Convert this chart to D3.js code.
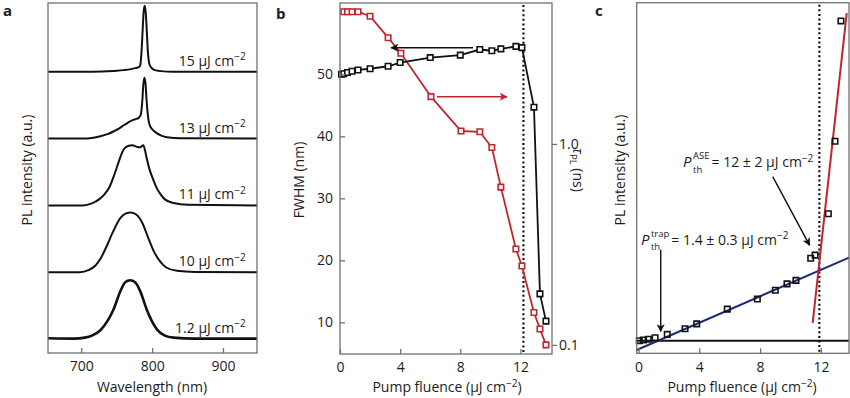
<!DOCTYPE html>
<html>
<head>
<meta charset="utf-8">
<script src="https://cdn.jsdelivr.net/npm/d3@7"></script>
<style>
  body { margin: 0; background: #fff; }
  text { font-family: "Open Sans", "Noto Sans", sans-serif; fill: #1c1c1c; }
</style>
</head>
<body>
<svg id="chart"></svg>
<script>
/*
 *  Data
 */
// panel a: PL spectra, [wavelength (nm), intensity (a.u.)], lowest trace first
var spectrumLabels = ["1.2", "10", "11", "13", "15"];
var spec1p2 = [[653,0.01],[690,0.005],[705,0.02],[715,0.05],[727,0.13],[737,0.27],[745,0.43],[755,0.71],[762,0.85],[769,0.88],[776,0.85],[783,0.72],[792,0.45],[800,0.26],[807,0.14],[818,0.05],[830,0.02],[860,0.005],[948,0.005]];
var spec10 = [[653,0],[698,0],[710,0.03],[720,0.1],[727,0.2],[735,0.37],[745,0.61],[755,0.81],[763,0.88],[770,0.895],[778,0.86],[786,0.74],[795,0.5],[803,0.3],[812,0.15],[820,0.07],[835,0.02],[860,0.003],[948,0]];
var spec11 = [[653,0],[702,0],[715,0.03],[725,0.09],[733,0.17],[740,0.28],[748,0.5],[755,0.72],[760,0.84],[766,0.89],[772,0.9],[779,0.875],[783,0.87],[787.5,0.9],[790,0.82],[792,0.72],[796,0.55],[801,0.4],[806,0.27],[811,0.18],[818,0.09],[830,0.035],[850,0.008],[948,0]];
var spec13 = [[653,0],[703,0],[715,0.01],[727,0.035],[738,0.07],[746,0.11],[753,0.15],[760,0.2],[766,0.24],[771,0.27],[776,0.29],[781,0.31],[784,0.36],[786,0.55],[787.5,0.8],[789,0.91],[790.5,0.84],[792,0.6],[793.5,0.4],[795,0.27],[797,0.19],[801,0.13],[806,0.085],[813,0.045],[821,0.02],[840,0.005],[948,0]];
var spec15 = [[653,0],[700,0],[730,0.005],[750,0.015],[760,0.025],[770,0.04],[776,0.055],[781,0.07],[783,0.09],[785,0.3],[786.5,0.6],[788,0.9],[789.5,0.99],[791,0.88],[792.5,0.6],[794,0.3],[796,0.12],[799,0.06],[804,0.025],[812,0.01],[830,0],[948,0]];
var spectra = [spec1p2, spec10, spec11, spec13, spec15];
var wavelengthTicks = [700, 800, 900];

// panel b: FWHM (left axis) and PL lifetime (right axis, log) vs pump fluence
var fluenceFwhm = [0.1, 0.25, 0.5, 0.8, 1.2, 2.0, 3.2, 4.0, 6.0, 8.0, 9.3, 10.1, 10.7, 11.7, 12.1, 12.9, 13.3, 13.7];
var fwhm = [50.0, 50.1, 50.3, 50.5, 50.7, 50.9, 51.3, 51.9, 52.7, 53.1, 54.0, 53.8, 54.1, 54.5, 54.3, 44.7, 14.6, 10.2];
var fluenceTau = [0.25, 0.5, 0.8, 1.2, 2.0, 3.2, 4.05, 6.05, 8.05, 9.3, 10.1, 10.7, 11.7, 12.1, 12.9, 13.3, 13.7];
var tauPL = [4.55, 4.55, 4.55, 4.55, 4.32, 3.38, 2.83, 1.72, 1.16, 1.15, 0.96, 0.61, 0.30, 0.247, 0.145, 0.12, 0.10];
var fwhmTicks = [10, 20, 30, 40, 50];
var tauTicks = [0.1, 1];
var fluenceTicks = [0, 4, 8, 12];
var thresholdB = 12.2;

// panel c: integrated PL intensity vs pump fluence, with the two linear fits
var fluenceC = [0.05, 0.32, 0.64, 1.09, 1.89, 3.06, 3.83, 5.84, 7.82, 9.0, 9.77, 10.36, 11.33, 11.62, 12.49, 12.93, 13.32];
var intensityC = [3.6, 3.8, 4.0, 4.45, 5.4, 7.0, 8.4, 12.6, 15.5, 18.0, 19.8, 20.8, 27.1, 28.0, 39.8, 60.5, 94.8];
var trapFit = [[-0.12, 0.94], [13.85, 27.3]];
var aseFit = [[11.46, 8.7], [13.7, 97.0]];
var floorLine = [[-0.12, 3.6], [13.85, 3.6]];
var thresholdC = 11.9;

/*
 *  Canvas
 */
var width = 850,
    height = 398;

var red = "#c0262d",
    navy = "#1b2a7e",
    frameColor = "#707070";

var svg = d3.select("#chart")
    .attr("width", width)
    .attr("height", height);

var defs = svg.append("defs");
[["headBlack", "#111"], ["headRed", red]].forEach(function(m) {
  defs.append("marker")
      .attr("id", m[0])
      .attr("viewBox", "0 0 10 10")
      .attr("refX", 9).attr("refY", 5)
      .attr("markerWidth", 9).attr("markerHeight", 8)
      .attr("markerUnits", "userSpaceOnUse")
      .attr("orient", "auto")
    .append("path")
      .attr("d", "M0,0 L10,5 L0,10 L2.5,5 Z")
      .style("fill", m[1]);
});

// helpers
function frame(x0, x1, y0, y1) {
  svg.append("rect")
      .attr("x", x0).attr("y", y0)
      .attr("width", x1 - x0).attr("height", y1 - y0)
      .style("fill", "none")
      .style("stroke", frameColor)
      .style("stroke-width", 1.3);
}

function styleAxis(g) {
  g.attr("font-family", null).attr("font-size", 14);
  g.select(".domain").remove();
  g.selectAll(".tick line").style("stroke", frameColor).style("stroke-width", 1.3);
  g.selectAll(".tick text").style("fill", "#1c1c1c");
}

// text with a "μJ cm⁻²" unit
function unitText(sel, before, after) {
  sel.append("tspan").text(before + "μJ cm");
  sel.append("tspan").attr("dy", -5.5).attr("font-size", "0.72em").text("−2");
  if (after) sel.append("tspan").attr("dy", 5.5).text(after);
  return sel;
}

function panelLetter(x, y, s) {
  svg.append("text")
      .attr("x", x).attr("y", y)
      .style("font-weight", "bold")
      .style("font-size", "15px")
      .text(s);
}

function yTitle(x, y, angle, s) {
  return svg.append("text")
      .attr("transform", "translate(" + x + "," + y + ") rotate(" + angle + ")")
      .style("text-anchor", "middle")
      .style("font-size", "14px")
      .text(s);
}

function textWidth(s, size) {
  var t = svg.append("text").style("font-size", size + "px").text(s);
  var w = t.node().getComputedTextLength();
  t.remove();
  return w;
}

/*
 *  Panel a
 */
var xA = d3.scaleLinear().domain([653, 948]).range([48, 257]);
var yA = d3.scaleLinear().domain([-0.21, 5.03]).range([353, 3]);

var lineA = function(offset) {
  return d3.line()
      .x(function(d) { return xA(d[0]); })
      .y(function(d) { return yA(d[1] + offset); })
      .curve(d3.curveMonotoneX);
};

svg.append("g").selectAll("path")
    .data(spectra)
  .enter().append("path")
    .attr("d", function(d, i) { return lineA(i)(d); })
    .style("fill", "none")
    .style("stroke", "#111")
    .style("stroke-width", function(d, i) { return i == 0 ? 2.6 : 2; })
    .style("stroke-linejoin", "round");

svg.append("g").selectAll("text")
    .data(spectrumLabels)
  .enter().append("text")
    .attr("x", xA(932))
    .attr("y", function(d, i) { return yA(i) - 6; })
    .style("text-anchor", "end")
    .style("font-size", "14px")
    .each(function(d) { unitText(d3.select(this), d + " "); });

svg.append("g")
    .attr("transform", "translate(0," + yA.range()[0] + ")")
    .call(d3.axisBottom(xA).tickValues(wavelengthTicks).tickSizeInner(-5).tickSizeOuter(0).tickPadding(8.5))
    .call(styleAxis);

frame(48, 257, 3, 353);
panelLetter(3, 16, "a");
yTitle(32, 170, -90, "PL intensity (a.u.)");
svg.append("text")
    .attr("x", 152).attr("y", 392)
    .style("text-anchor", "middle")
    .style("font-size", "14px")
    .text("Wavelength (nm)");

/*
 *  Panel b
 */
var xB = d3.scaleLinear().domain([0, 14.1]).range([340, 552]);
var yB = d3.scaleLinear().domain([4.9, 61.5]).range([354, 3]);
var yTau = d3.scaleLog().domain([0.0901, 5.03]).range([354, 3]);

svg.append("line")
    .attr("x1", xB(thresholdB)).attr("x2", xB(thresholdB))
    .attr("y1", yB.range()[1] + 2).attr("y2", yB.range()[0])
    .style("stroke", "#111")
    .style("stroke-width", 2.2)
    .style("stroke-dasharray", "2,2.6");

var fwhmPts = fluenceFwhm.map(function(f, i) { return [f, fwhm[i]]; });
var tauPts = fluenceTau.map(function(f, i) { return [f, tauPL[i]]; });

svg.append("path")
    .datum(tauPts)
    .attr("d", d3.line().x(function(d) { return xB(d[0]); }).y(function(d) { return yTau(d[1]); }))
    .style("fill", "none").style("stroke", red).style("stroke-width", 1.8);

svg.append("path")
    .datum(fwhmPts)
    .attr("d", d3.line().x(function(d) { return xB(d[0]); }).y(function(d) { return yB(d[1]); }))
    .style("fill", "none").style("stroke", "#111").style("stroke-width", 1.8);

var square = d3.symbol().type(d3.symbolSquare).size(30);

svg.append("g").selectAll("path")
    .data(tauPts)
  .enter().append("path")
    .attr("transform", function(d) { return "translate(" + xB(d[0]) + "," + yTau(d[1]) + ")"; })
    .attr("d", square)
    .style("fill", "#fff").style("stroke", red).style("stroke-width", 1.6);

svg.append("g").selectAll("path")
    .data(fwhmPts)
  .enter().append("path")
    .attr("transform", function(d) { return "translate(" + xB(d[0]) + "," + yB(d[1]) + ")"; })
    .attr("d", square)
    .style("fill", "#fff").style("stroke", "#111").style("stroke-width", 1.6);

// axis pointers
svg.append("line")
    .attr("x1", xB(8.85)).attr("x2", xB(3.4))
    .attr("y1", yB(54.3)).attr("y2", yB(54.3))
    .style("stroke", "#111").style("stroke-width", 1.5)
    .attr("marker-end", "url(#headBlack)");
svg.append("line")
    .attr("x1", xB(6.45)).attr("x2", xB(11.1))
    .attr("y1", yB(46.4)).attr("y2", yB(46.4))
    .style("stroke", red).style("stroke-width", 1.5)
    .attr("marker-end", "url(#headRed)");

svg.append("g")
    .attr("transform", "translate(0," + yB.range()[0] + ")")
    .call(d3.axisBottom(xB).tickValues(fluenceTicks).tickSizeInner(-5).tickSizeOuter(0).tickPadding(8.5))
    .call(styleAxis);
svg.append("g")
    .attr("transform", "translate(" + xB.range()[0] + ",0)")
    .call(d3.axisLeft(yB).tickValues(fwhmTicks).tickSizeInner(-5).tickSizeOuter(0).tickPadding(7))
    .call(styleAxis);
svg.append("g")
    .attr("transform", "translate(" + xB.range()[1] + ",0)")
    .call(d3.axisRight(yTau).tickValues(tauTicks).tickFormat(d3.format(".1f")).tickSizeInner(5).tickSizeOuter(0).tickPadding(2))
    .call(styleAxis);

frame(340, 552, 3, 354);
panelLetter(276, 19, "b");
yTitle(304, 180, -90, "FWHM (nm)");

var tauTitle = svg.append("text")
    .attr("transform", "translate(573,170) rotate(90)")
    .style("text-anchor", "middle")
    .style("font-size", "14px");
tauTitle.append("tspan").style("font-style", "italic").text("τ");
tauTitle.append("tspan").attr("dy", 3).attr("font-size", "0.68em").text("PL");
tauTitle.append("tspan").attr("dy", -3).text(" (ns)");

unitText(svg.append("text")
    .attr("x", 447).attr("y", 392)
    .style("text-anchor", "middle")
    .style("font-size", "14px"), "Pump fluence (", ")");

/*
 *  Panel c
 */
var xC = d3.scaleLinear().domain([-0.12, 13.85]).range([636.7, 849]);
var yC = d3.scaleLinear().domain([0, 100]).range([353.3, 2.7]);

var lineC = d3.line()
    .x(function(d) { return xC(d[0]); })
    .y(function(d) { return yC(d[1]); });

svg.append("line")
    .attr("x1", xC(thresholdC)).attr("x2", xC(thresholdC))
    .attr("y1", yC.range()[1] + 2).attr("y2", yC.range()[0])
    .style("stroke", "#111")
    .style("stroke-width", 2.2)
    .style("stroke-dasharray", "2,2.6");

svg.append("path").datum(floorLine).attr("d", lineC)
    .style("stroke", "#111").style("stroke-width", 2);
svg.append("path").datum(trapFit).attr("d", lineC)
    .style("stroke", navy).style("stroke-width", 2);
svg.append("path").datum(aseFit).attr("d", lineC)
    .style("stroke", red).style("stroke-width", 2);

svg.append("g").selectAll("path")
    .data(fluenceC)
  .enter().append("path")
    .attr("transform", function(d, i) { return "translate(" + xC(d) + "," + yC(intensityC[i]) + ")"; })
    .attr("d", square)
    .style("fill", "none").style("stroke", "#111").style("stroke-width", 1.6);

// threshold annotations: P with sub "th" and a superscript, one text element
function thresholdLabel(fx, iy, sup, rest) {
  var supW = textWidth(sup, 9.5),
      thW = textWidth("th", 9.5);
  var t = svg.append("text")
      .attr("x", xC(fx)).attr("y", yC(iy))
      .style("font-size", "14px");
  t.append("tspan").style("font-style", "italic").style("font-size", "15px").text("P");
  t.append("tspan").attr("dx", 1.5).attr("dy", -8).style("font-size", "9.5px").text(sup);
  t.append("tspan").attr("dx", -supW).attr("dy", 13.5).style("font-size", "9.5px").text("th");
  t.append("tspan").attr("dx", Math.max(supW - thW, 0) + 2).attr("dy", -5.5).text(rest + "μJ cm");
  t.append("tspan").attr("dy", -5.5).style("font-size", "10px").text("−2");
}
thresholdLabel(2.93, 53.1, "ASE", "= 12 ± 2 ");
thresholdLabel(0.16, 30.9, "trap", "= 1.4 ± 0.3 ");

svg.append("line")
    .attr("x1", xC(8.83)).attr("y1", yC(50.4))
    .attr("x2", xC(11.26)).attr("y2", yC(30.8))
    .style("stroke", "#111").style("stroke-width", 1.4)
    .attr("marker-end", "url(#headBlack)");
svg.append("line")
    .attr("x1", xC(1.46)).attr("y1", yC(29.5))
    .attr("x2", xC(1.46)).attr("y2", yC(6.2))
    .style("stroke", "#111").style("stroke-width", 1.4)
    .attr("marker-end", "url(#headBlack)");

svg.append("g")
    .attr("transform", "translate(0," + yC.range()[0] + ")")
    .call(d3.axisBottom(xC).tickValues(fluenceTicks).tickSizeInner(-5).tickSizeOuter(0).tickPadding(8.5))
    .call(styleAxis);

frame(636.7, 849, 2.7, 353.3);
panelLetter(595, 16, "c");
yTitle(625, 170, -90, "PL intensity (a.u.)");
unitText(svg.append("text")
    .attr("x", 742).attr("y", 392)
    .style("text-anchor", "middle")
    .style("font-size", "14px"), "Pump fluence (", ")");
</script>
</body>
</html>
